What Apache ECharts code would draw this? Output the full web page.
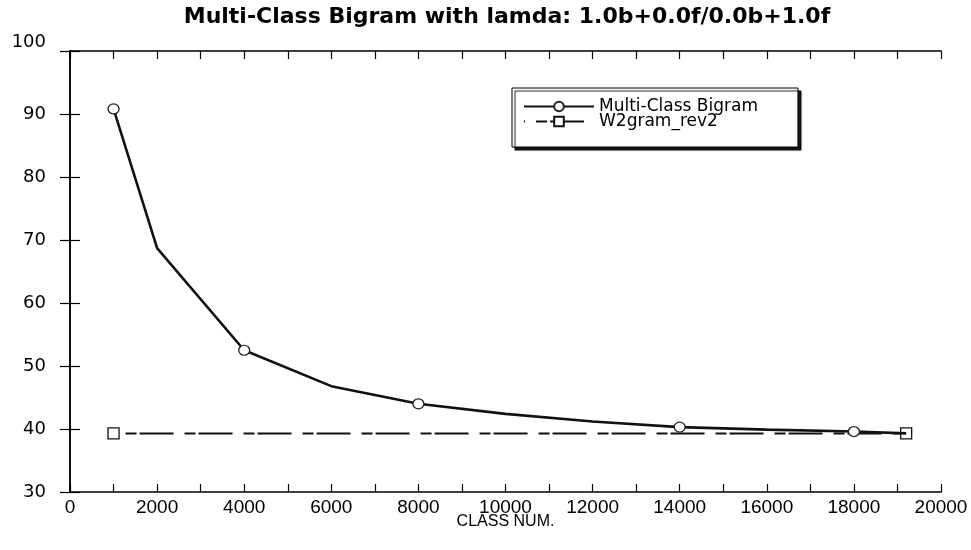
<!DOCTYPE html>
<html>
<head>
<meta charset="utf-8">
<script src="https://cdn.jsdelivr.net/npm/echarts@6/dist/echarts.min.js"></script>
<style>html,body{margin:0;padding:0;background:#fff;}#c{width:971px;height:550px;}</style>
</head>
<body>
<div id="c"></div>
<script>
var titleText = 'Multi-Class Bigram with lamda: 1.0b+0.0f/0.0b+1.0f';
var xAxisName = 'CLASS NUM.';
var seriesNames = ['Multi-Class Bigram', 'W2gram_rev2'];

var bigramX      = [1000, 2000, 4000, 6000, 8000, 10000, 12000, 14000, 16000, 18000, 19200];
var bigramY      = [90.8, 68.7, 52.5, 46.8, 44.0, 42.4, 41.2, 40.3, 39.9, 39.6, 39.3];
var bigramMarker = [true, false, true, false, true, false, false, true, false, true, false];

var w2gramX = [1000, 19200];
var w2gramY = [39.3, 39.3];

var xMin = 0, xMax = 20000, xStep = 2000;
var yMin = 30, yMax = 100, yStep = 10;

var bigramData = bigramX.map(function (x, i) {
  return { value: [x, bigramY[i]], symbol: bigramMarker[i] ? 'circle' : 'none' };
});
var w2gramData = w2gramX.map(function (x, i) { return [x, w2gramY[i]]; });

var black = '#000';
var axisLineStyle = { color: black, width: 1.5 };

var chart = echarts.init(document.getElementById('c'), null, { renderer: 'canvas' });
chart.setOption({
  backgroundColor: '#fff',
  animation: false,
  title: {
    text: titleText,
    left: 507,
    top: 6,
    padding: 0,
    textAlign: 'center',
    textStyle: { fontFamily: 'DejaVu Sans', fontWeight: 'bold', fontSize: 22, color: '#000' }
  },
  legend: {
    orient: 'vertical',
    left: 512,
    top: 88,
    padding: [10, 40, 17, 11],
    itemWidth: 70,
    itemHeight: 12,
    itemGap: -2,
    backgroundColor: '#fff',
    borderColor: '#000',
    borderWidth: 1,
    shadowColor: 'rgba(0,0,0,0.9)',
    shadowBlur: 1,
    shadowOffsetX: 3,
    shadowOffsetY: 3,
    textStyle: { fontFamily: 'DejaVu Sans', fontSize: 17, color: '#000' },
    data: seriesNames
  },
  grid: { left: 70, right: 30, top: 51, bottom: 58, containLabel: false },
  xAxis: [{
    type: 'value', min: xMin, max: xMax, interval: xStep, position: 'bottom',
    axisLine: { show: true, lineStyle: axisLineStyle },
    axisTick: { show: true, inside: true, length: 8, lineStyle: { color: black, width: 1.2 } },
    minorTick: { show: true, splitNumber: 2, length: 8, lineStyle: { color: black, width: 1.2 } },
    axisLabel: { color: '#000', fontFamily: 'Liberation Sans', fontSize: 19, margin: 6,
      formatter: function (v) { return String(v); } },
    splitLine: { show: false },
    name: xAxisName, nameLocation: 'middle', nameGap: 22, nameMoveOverlap: false,
    nameTextStyle: { color: '#000', fontFamily: 'Liberation Sans', fontSize: 16 }
  }, {
    type: 'value', min: xMin, max: xMax, interval: xStep, position: 'top',
    axisLine: { show: true, lineStyle: axisLineStyle },
    axisTick: { show: true, inside: true, length: 8, lineStyle: { color: black, width: 1.2 } },
    minorTick: { show: true, splitNumber: 2, length: 8, lineStyle: { color: black, width: 1.2 } },
    axisLabel: { show: false },
    splitLine: { show: false }
  }],
  yAxis: [{
    type: 'value', min: yMin, max: yMax, interval: yStep, position: 'left',
    axisLine: { show: true, lineStyle: axisLineStyle },
    axisTick: { show: true, inside: true, length: 10, lineStyle: { color: black, width: 1.2 } },
    axisLabel: {
      color: '#000', fontFamily: 'DejaVu Sans', fontSize: 18, margin: 24,
      formatter: function (v) { return v === yMax ? '{t|' + v + '}' : String(v); },
      rich: { t: { fontFamily: 'DejaVu Sans', fontSize: 18, color: '#000', padding: [0, 0, 18, 0] } }
    },
    splitLine: { show: false }
  }, {
    type: 'value', min: yMin, max: yMax, interval: yStep, position: 'right',
    axisLine: { show: true, lineStyle: axisLineStyle },
    axisTick: { show: true, inside: true, length: 10, lineStyle: { color: black, width: 1.2 } },
    axisLabel: { show: false },
    splitLine: { show: false }
  }],
  series: [{
    name: seriesNames[0],
    type: 'line',
    xAxisIndex: 0, yAxisIndex: 0,
    data: bigramData,
    symbol: 'circle',
    symbolSize: [11, 10],
    showAllSymbol: true,
    lineStyle: { color: '#111', width: 2.6 },
    itemStyle: { color: '#fff', borderColor: '#222', borderWidth: 1.3 },
    z: 3
  }, {
    name: seriesNames[1],
    type: 'line',
    xAxisIndex: 0, yAxisIndex: 0,
    data: w2gramData,
    symbol: 'rect',
    symbolSize: 11,
    lineStyle: { color: '#111', width: 2, type: [11, 3, 34, 11], dashOffset: 47 },
    itemStyle: { color: '#fff', borderColor: '#111', borderWidth: 1.3 },
    z: 2
  }]
});
</script>
</body>
</html>
